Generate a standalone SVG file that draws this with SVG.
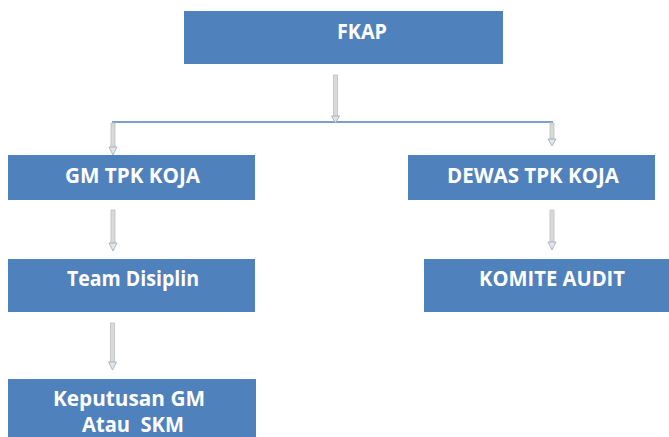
<svg xmlns="http://www.w3.org/2000/svg" width="669" height="437" viewBox="0 0 669 437">
<style>
.box{fill:#4f81bd;}
.lbl{fill:#ffffff;font-family:"Open Sans","Liberation Sans",sans-serif;font-weight:bold;font-size:21px;white-space:pre;}
.shaft{fill:#d9d9d9;stroke:#bfbfbf;stroke-width:0.8;}
.head{fill:#dce6f2;stroke:#a6a6a6;stroke-width:0.8;}
.bus{stroke:#4f81bd;stroke-width:1.5;fill:none;}
</style>
<rect width="669" height="437" fill="#ffffff"/>
<g id="connectors">
<line class="bus" x1="112" y1="122" x2="553" y2="122"/>
<g id="a1"><rect class="shaft" x="333.5" y="75" width="4" height="42"/><path class="head" d="M331.5 116 L339.5 116 L335.5 123 Z"/></g>
<g id="a2"><rect class="shaft" x="111" y="123" width="4" height="25"/><path class="head" d="M109 147 L117 147 L113 155 Z"/></g>
<g id="a3"><rect class="shaft" x="550" y="123" width="4" height="17"/><path class="head" d="M548 139 L556 139 L552 146 Z"/></g>
<g id="a4"><rect class="shaft" x="111" y="210" width="4" height="34"/><path class="head" d="M109 243 L117 243 L113 251 Z"/></g>
<g id="a5"><rect class="shaft" x="110.5" y="323" width="4" height="40"/><path class="head" d="M108.5 362 L116.5 362 L112.5 370 Z"/></g>
<g id="a6"><rect class="shaft" x="550" y="210" width="4" height="33"/><path class="head" d="M548 242 L556 242 L552 250 Z"/></g>
</g>
<g id="fkap"><rect class="box" x="184" y="11" width="319" height="53"/><text class="lbl" x="362" y="39" text-anchor="middle" textLength="50" lengthAdjust="spacingAndGlyphs">FKAP</text></g>
<g id="gm"><rect class="box" x="8" y="155" width="247" height="45"/><text class="lbl" x="132.5" y="183" text-anchor="middle" textLength="135" lengthAdjust="spacingAndGlyphs">GM TPK KOJA</text></g>
<g id="dewas"><rect class="box" x="408" y="155" width="247" height="45"/><text class="lbl" x="533" y="183" text-anchor="middle" textLength="172" lengthAdjust="spacingAndGlyphs">DEWAS TPK KOJA</text></g>
<g id="team"><rect class="box" x="8" y="259" width="247" height="53"/><text class="lbl" x="133" y="286" text-anchor="middle" textLength="132" lengthAdjust="spacingAndGlyphs">Team Disiplin</text></g>
<g id="komite"><rect class="box" x="424" y="259" width="245" height="53"/><text class="lbl" x="552" y="286" text-anchor="middle" textLength="146" lengthAdjust="spacingAndGlyphs">KOMITE AUDIT</text></g>
<g id="keputusan"><rect class="box" x="8" y="379" width="248" height="58"/><text class="lbl" x="129" y="406" text-anchor="middle" textLength="152" lengthAdjust="spacingAndGlyphs">Keputusan GM</text><text class="lbl" x="133" y="432" text-anchor="middle" textLength="102" lengthAdjust="spacingAndGlyphs">Atau  SKM</text></g>
</svg>
